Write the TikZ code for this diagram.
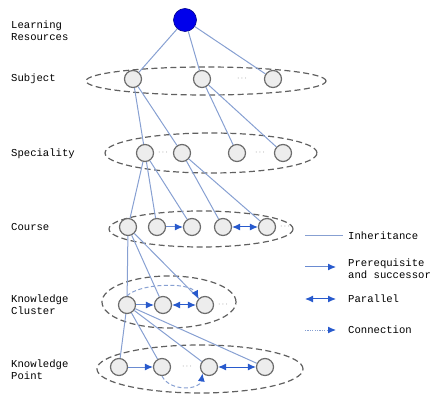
\documentclass[tikz,border=0pt]{standalone}
\usepackage{fontspec}
\setmonofont{Liberation Mono}
\usetikzlibrary{arrows.meta}
\definecolor{linkblue}{RGB}{135,160,210}
\definecolor{arrowblue}{RGB}{40,90,205}
\definecolor{rootblue}{RGB}{0,0,235}
\begin{document}
\begin{tikzpicture}[x=1pt,y=-1pt,
  lbl/.style={anchor=west,align=left,inner sep=0pt,text=black,
    font=\ttfamily\fontsize{10.6}{12.3}\selectfont},
  item/.style={circle,draw=gray!85!black,fill=gray!14,line width=1.2pt,
    minimum size=17pt,inner sep=0pt},
  rootnode/.style={circle,draw=rootblue!60!black,fill=rootblue,line width=0.6pt,
    minimum size=23pt,inner sep=0pt},
  group/.style={draw=gray!75!black,dash pattern=on 6pt off 3.5pt,line width=1.2pt},
  inh/.style={draw=linkblue,line width=1pt},
  pre/.style={draw=linkblue!70!arrowblue,line width=1pt,
    -{Latex[length=8pt,width=7pt,color=arrowblue]}},
  par/.style={draw=arrowblue,line width=1pt,
    {Latex[length=8pt,width=7pt]}-{Latex[length=8pt,width=7pt]}},
  conn/.style={draw=linkblue,line width=1pt,dash pattern=on 4pt off 2.5pt,
    -{Latex[length=8pt,width=7pt,color=arrowblue]}},
  connleg/.style={draw=linkblue,line width=1pt,dash pattern=on 1.2pt off 1.2pt,
    -{Latex[length=8pt,width=7pt,color=arrowblue]}},
  more/.style={inner sep=0pt,text=gray!70!black,font=\footnotesize}
]
\useasboundingbox (0,0) rectangle (431,395);

% level labels
\node[lbl] (lr) at (11,31) {Learning\\Resources};
\node[lbl] (ls) at (11,79) {Subject};
\node[lbl] (lp) at (11,154) {Speciality};
\node[lbl] (lc) at (11,227) {Course};
\node[lbl] (lk) at (11,305) {Knowledge\\Cluster};
\node[lbl] (lt) at (11,370) {Knowledge\\Point};

% dashed groups
\draw[group] (206,81) ellipse [x radius=120pt, y radius=14pt];
\draw[group] (211,153) ellipse [x radius=106pt, y radius=20pt];
\draw[group] (201,229) ellipse [x radius=92pt, y radius=18pt];
\draw[group] (169,302) ellipse [x radius=67pt, y radius=26pt];
\draw[group] (200,369) ellipse [x radius=103pt, y radius=24pt];

% nodes
\node[rootnode] (root) at (185,20) {};

\node[item] (s1) at (133,79) {};
\node[item] (s2) at (202,79) {};
\node[item] (s3) at (273,79) {};
\node[more] (sd) at (242,79) {$\cdots$};

\node[item] (p1) at (145,153) {};
\node[item] (p2) at (182,153) {};
\node[item] (p3) at (237,153) {};
\node[item] (p4) at (283,153) {};
\node[more] (pd1) at (163,153) {$\cdots$};
\node[more] (pd2) at (260,153) {$\cdots$};

\node[item] (c1) at (128,227) {};
\node[item] (c2) at (157,227) {};
\node[item] (c3) at (192,227) {};
\node[item] (c4) at (223,227) {};
\node[item] (c5) at (267,227) {};
\node[more] (cd) at (285,227) {$\cdots$};

\node[item] (k1) at (127,305) {};
\node[item] (k2) at (163,305) {};
\node[item] (k3) at (205,305) {};
\node[more] (kd) at (223,305) {$\cdots$};

\node[item] (t1) at (119,367) {};
\node[item] (t2) at (162,367) {};
\node[item] (t3) at (209,367) {};
\node[item] (t4) at (265,367) {};
\node[more] (td) at (187,367) {$\cdots$};

% inheritance
\draw[inh] (root) -- (s1);
\draw[inh] (root) -- (s2);
\draw[inh] (root) -- (s3);
\draw[inh] (s1) -- (p1);
\draw[inh] (s1) -- (p2);
\draw[inh] (s2) -- (p3);
\draw[inh] (s2) -- (p4);
\draw[inh] (p1) -- (c1);
\draw[inh] (p1) -- (c2);
\draw[inh] (p1) -- (c3);
\draw[inh] (p2) -- (c4);
\draw[inh] (p2) -- (c5);
\draw[inh] (c1) -- (k1);
\draw[inh] (c1) -- (k2);
\draw[inh] (c1) -- (k3);
\draw[inh] (k1) -- (t1);
\draw[inh] (k1) -- (t2);
\draw[inh] (k1) -- (t3);
\draw[inh] (k1) -- (t4);

% prerequisite / parallel / connection
\draw[pre] (c2) -- (c3);
\draw[par] (c4) -- (c5);
\draw[pre] (k1) -- (k2);
\draw[par] (k2) -- (k3);
\draw[pre] (t1) -- (t2);
\draw[par] (t3) -- (t4);
\draw[conn] (k1.north) .. controls (140,283) and (190,282) .. (k3.north west);
\draw[conn] (t2.south) .. controls (170,392) and (200,390) .. (t3.south west);

% legend
\coordinate (a1) at (305,236); \coordinate (b1) at (343,236);
\coordinate (a2) at (305,267); \coordinate (b2) at (336,267);
\coordinate (a3) at (305,299); \coordinate (b3) at (336,299);
\coordinate (a4) at (305,330); \coordinate (b4) at (336,330);
\draw[inh] (a1) -- (b1);
\draw[pre] (a2) -- (b2);
\draw[par] (a3) -- (b3);
\draw[connleg] (a4) -- (b4);
\node[lbl] (g1) at (348,236) {Inheritance};
\node[lbl] (g2) at (348,269) {Prerequisite\\and successor};
\node[lbl] (g3) at (348,299) {Parallel};
\node[lbl] (g4) at (348,330) {Connection};
\end{tikzpicture}
\end{document}
